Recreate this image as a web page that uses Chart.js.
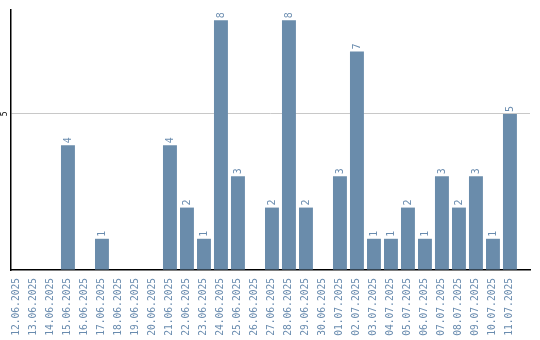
<!DOCTYPE html>
<html>
<head>
<meta charset="utf-8">
<script src="https://cdn.jsdelivr.net/npm/chart.js@4.4.1/dist/chart.umd.min.js"></script>
<style>
    html, body { margin: 0; padding: 0; background: #fff; }
    #wrap { width: 540px; height: 340px; }
</style>
</head>
<body>
<div id="wrap"><canvas id="chart"></canvas></div>
<script>
// Dates and daily counts
const labels = [
    '12.06.2025', '13.06.2025', '14.06.2025', '15.06.2025', '16.06.2025',
    '17.06.2025', '18.06.2025', '19.06.2025', '20.06.2025', '21.06.2025',
    '22.06.2025', '23.06.2025', '24.06.2025', '25.06.2025', '26.06.2025',
    '27.06.2025', '28.06.2025', '29.06.2025', '30.06.2025', '01.07.2025',
    '02.07.2025', '03.07.2025', '04.07.2025', '05.07.2025', '06.07.2025',
    '07.07.2025', '08.07.2025', '09.07.2025', '10.07.2025', '11.07.2025'
];
const counts = [0, 0, 0, 4, 0, 1, 0, 0, 0, 4, 2, 1, 8, 3, 0, 2, 8, 2, 0, 3, 7, 1, 1, 2, 1, 3, 2, 3, 1, 5];
const yTicks = [0, 5];

const barColor = '#6a8cab';
const textColor = '#6a8caf';
const monoFont = '"DejaVu Sans Mono", monospace';

// Draws rotated value labels above bars and the rotated y tick label
const valueLabels = {
    id: 'valueLabels',
    afterDatasetsDraw(chart) {
        const ctx = chart.ctx;
        const meta = chart.getDatasetMeta(0);
        ctx.save();
        ctx.font = '10px ' + monoFont;
        ctx.fillStyle = textColor;
        ctx.textAlign = 'left';
        ctx.textBaseline = 'middle';
        meta.data.forEach((bar, i) => {
            const v = counts[i];
            if (!v) return;
            ctx.save();
            ctx.translate(bar.x, bar.y - 2);
            ctx.rotate(-Math.PI / 2);
            ctx.fillText(String(v), 0, 0);
            ctx.restore();
        });
        // y tick label
        const y = chart.scales.y;
        ctx.font = '8px ' + monoFont;
        ctx.fillStyle = '#000';
        ctx.textAlign = 'center';
        yTicks.filter(t => t > 0).forEach(t => {
            ctx.save();
            ctx.translate(5, y.getPixelForValue(t));
            ctx.rotate(-Math.PI / 2);
            ctx.fillText(String(t), 0, 0);
            ctx.restore();
        });
        ctx.restore();
    }
};

document.addEventListener('DOMContentLoaded', function() {
    new Chart(document.getElementById('chart'), {
        type: 'bar',
        data: {
            datasets: [{
                data: counts.map((v, i) => ({ x: i, y: v })),
                backgroundColor: barColor,
                borderWidth: 0,
                barPercentage: 0.82,
                categoryPercentage: 1
            }]
        },
        options: {
            responsive: true,
            maintainAspectRatio: false,
            animation: false,
            layout: { padding: { top: 10, right: 10, bottom: 4, left: 0 } },
            plugins: {
                legend: { display: false },
                tooltip: { enabled: false }
            },
            scales: {
                x: {
                    type: 'linear',
                    min: -0.35,
                    max: 30.18,
                    offset: false,
                    afterBuildTicks: function(axis) {
                        axis.ticks = labels.map((l, i) => ({ value: i }));
                    },
                    afterFit: function(axis) {
                        axis.height = 66;
                        axis.paddingLeft = 0;
                        axis.paddingRight = 0;
                    },
                    grid: { display: false, drawTicks: false, offset: false },
                    border: { color: '#000', width: 1.5 },
                    ticks: {
                        color: textColor,
                        font: { family: monoFont, size: 9.6 },
                        minRotation: 90,
                        maxRotation: 90,
                        autoSkip: false,
                        padding: 8,
                        callback: function(value) {
                            return labels[value];
                        }
                    }
                },
                y: {
                    min: 0,
                    max: 8.33,
                    afterBuildTicks: function(axis) {
                        axis.ticks = yTicks.map(v => ({ value: v }));
                    },
                    afterFit: function(axis) {
                        axis.width = 11;
                    },
                    grid: {
                        color: ctx => ctx.tick && ctx.tick.value === 0 ? 'rgba(0,0,0,0)' : '#c8c8c8',
                        drawTicks: false
                    },
                    border: { color: '#000', width: 1.5 },
                    ticks: { display: false }
                }
            }
        },
        plugins: [valueLabels]
    });
});
</script>
</body>
</html>
